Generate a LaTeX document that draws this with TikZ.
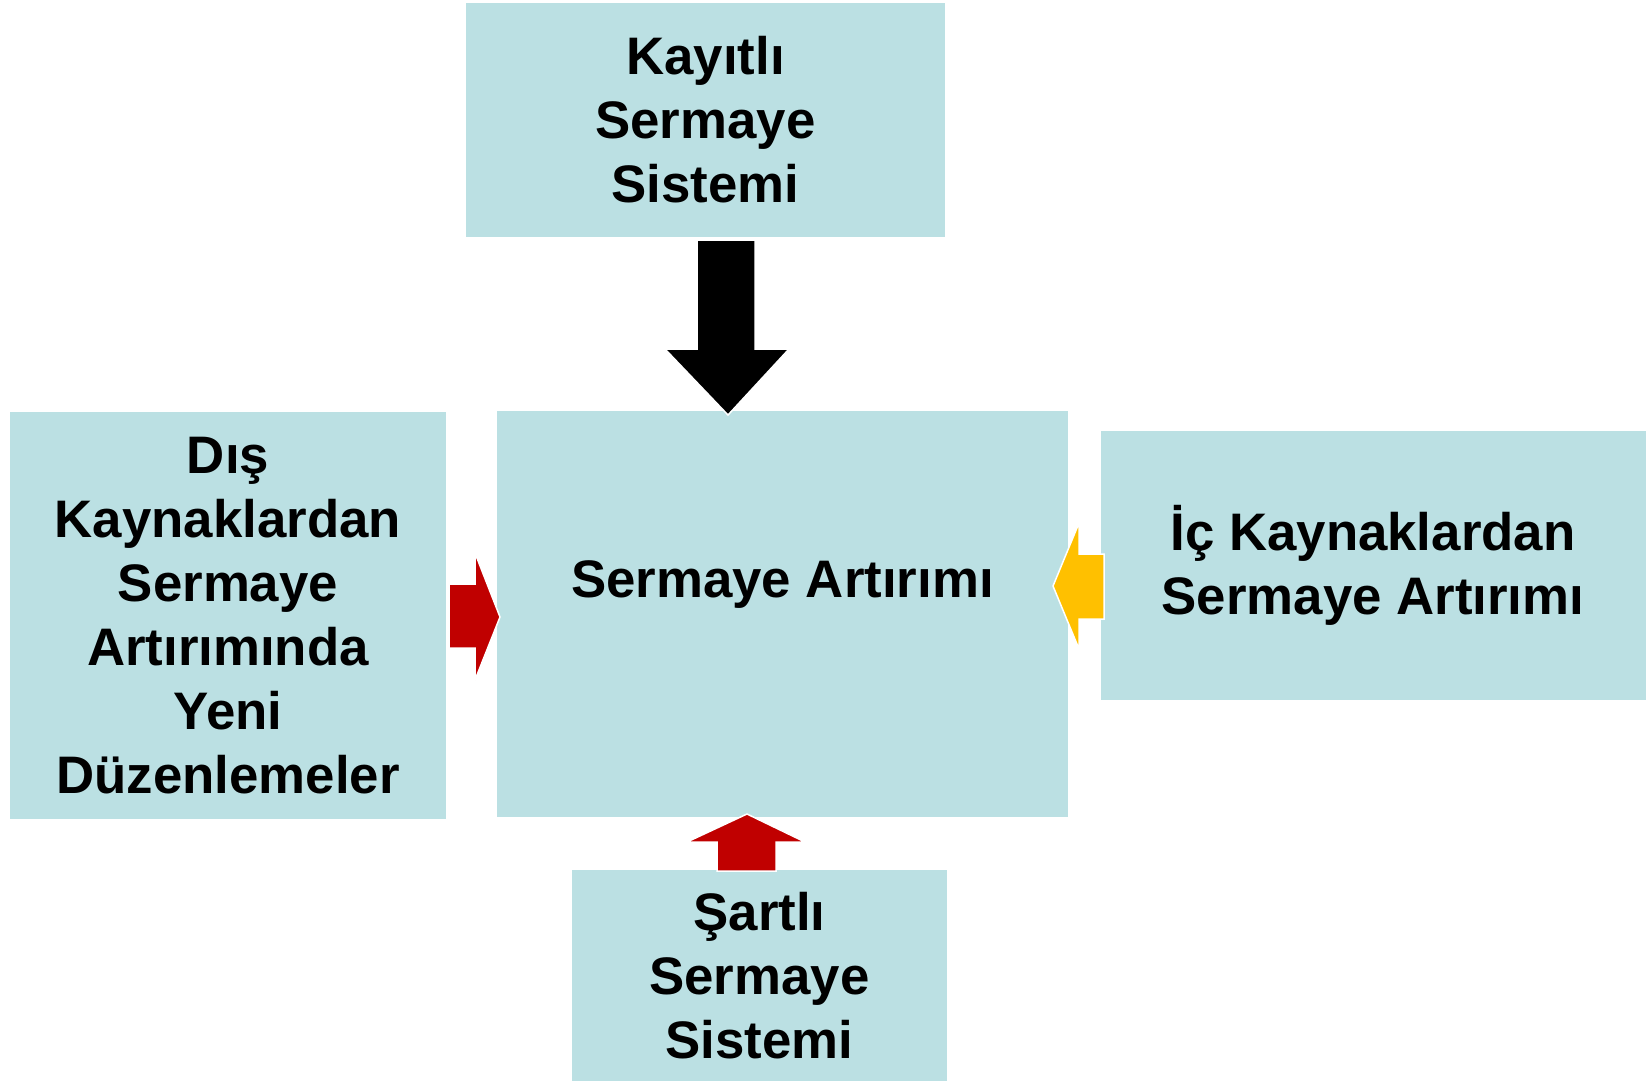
\documentclass[tikz,border=0pt]{standalone}
\usepackage{fontspec}
\setmainfont{Liberation Sans}
\usetikzlibrary{calc}
\definecolor{boxfill}{HTML}{BBE0E3}
\definecolor{redarrow}{HTML}{C00000}
\definecolor{yellowarrow}{HTML}{FFC000}
\begin{document}
\begin{tikzpicture}[x={(1pt,0)}, y={(0,-1pt)},
  box/.style={fill=boxfill, draw=none, inner sep=0pt, align=center,
    font=\fontsize{52.8}{64}\selectfont\bfseries},
  txt/.style={inner sep=0pt, align=center, font=\fontsize{52.8}{64}\selectfont\bfseries},
  blockarrow/.style={draw=white, line width=1.5pt, line join=miter}]
\path[use as bounding box, fill=white] (0,0) rectangle (1647,1080);

\node[box, minimum width=479pt, minimum height=234pt] (top) at (705.5,120) {Kayıtlı\\Sermaye\\Sistemi};
\node[box, minimum width=436pt, minimum height=407pt] (left) at (228,615.5) {Dış\\Kaynaklardan\\Sermaye\\Artırımında\\Yeni\\Düzenlemeler};
\node[box, minimum width=571pt, minimum height=406pt] (center) at (782.5,614) {};
\node[txt, anchor=base] (centerlabel) at (782.5,597) {Sermaye Artırımı};
\node[box, minimum width=545pt, minimum height=269pt] (right) at (1373,565.5) {İç Kaynaklardan\\Sermaye Artırımı};
\node[box, minimum width=375pt, minimum height=212pt] (bottom) at (759.5,976) {Şartlı\\Sermaye\\Sistemi};

% black arrow: top -> center
\filldraw[blockarrow, fill=black]
  (697,240) -- (755,240) -- (755,349) -- (789,349) -- (728,415) -- (665,349) -- (697,349) -- cycle;
% red arrow: left -> center
\filldraw[blockarrow, fill=redarrow]
  (449,584) -- (475,584) -- (475,553) -- (500,617) -- (475,680) -- (475,648) -- (449,648) -- cycle;
% yellow arrow: right -> center
\filldraw[blockarrow, fill=yellowarrow]
  (1104,554) -- (1079,554) -- (1079,523) -- (1053,586) -- (1079,649) -- (1079,619) -- (1104,619) -- cycle;
% red arrow: bottom -> center
\filldraw[blockarrow, fill=redarrow]
  (717,871) -- (717,842) -- (687,842) -- (747,814) -- (805,842) -- (776,842) -- (776,871) -- cycle;
\end{tikzpicture}
\end{document}
